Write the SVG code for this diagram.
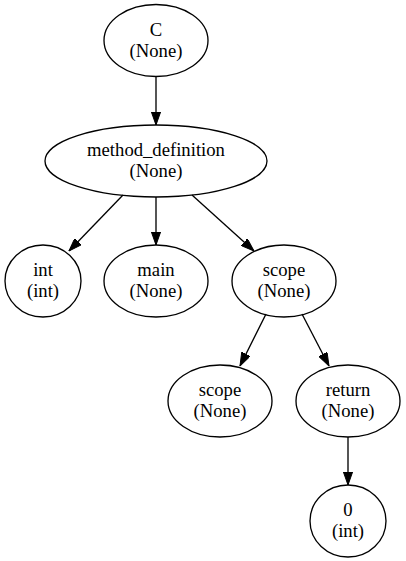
<svg xmlns="http://www.w3.org/2000/svg" width="406" height="561" viewBox="0 0 406 561">
<style>
.n ellipse{fill:none;stroke:#000;stroke-width:1.33}
.n text{font-family:"Liberation Serif","Times New Roman",serif;font-size:18.67px;text-anchor:middle;fill:#000}
.e line{stroke:#000;stroke-width:1.33;marker-end:url(#ah)}
</style>
<defs>
<marker id="ah" viewBox="0 0 13.3 9.4" refX="13.3" refY="4.7" markerWidth="13.3" markerHeight="9.4" markerUnits="userSpaceOnUse" orient="auto">
<path d="M0,0 L13.3,4.7 L0,9.4 z" fill="#000" stroke="#000" stroke-width="1"/>
</marker>
</defs>
<rect width="406" height="561" fill="#fff"/>
<g id="edges" class="e">
<line x1="156" y1="77" x2="156" y2="125"/>
<line x1="123" y1="195" x2="69" y2="251"/>
<line x1="156" y1="197" x2="156" y2="245"/>
<line x1="192" y1="195" x2="254" y2="251"/>
<line x1="266" y1="314" x2="240" y2="366"/>
<line x1="302" y1="314" x2="329" y2="366"/>
<line x1="348" y1="437" x2="348" y2="485"/>
</g>
<g id="n_C" class="n"><ellipse cx="156" cy="40.5" rx="52" ry="36"/><text x="156" y="35.7">C</text><text x="156" y="56.5">(None)</text></g>
<g id="n_method_definition" class="n"><ellipse cx="156" cy="161" rx="111" ry="36"/><text x="156" y="156.2">method_definition</text><text x="156" y="177">(None)</text></g>
<g id="n_int" class="n"><ellipse cx="43" cy="281" rx="38" ry="36"/><text x="43" y="276.2">int</text><text x="43" y="297">(int)</text></g>
<g id="n_main" class="n"><ellipse cx="156" cy="281" rx="52" ry="36"/><text x="156" y="276.2">main</text><text x="156" y="297">(None)</text></g>
<g id="n_scope1" class="n"><ellipse cx="284" cy="281" rx="52" ry="36"/><text x="284" y="276.2">scope</text><text x="284" y="297">(None)</text></g>
<g id="n_scope2" class="n"><ellipse cx="220" cy="401" rx="52" ry="36"/><text x="220" y="396.2">scope</text><text x="220" y="417">(None)</text></g>
<g id="n_return" class="n"><ellipse cx="348" cy="401" rx="52" ry="36"/><text x="348" y="396.2">return</text><text x="348" y="417">(None)</text></g>
<g id="n_0" class="n"><ellipse cx="348" cy="521" rx="38" ry="36"/><text x="348" y="516.2">0</text><text x="348" y="537">(int)</text></g>
</svg>
